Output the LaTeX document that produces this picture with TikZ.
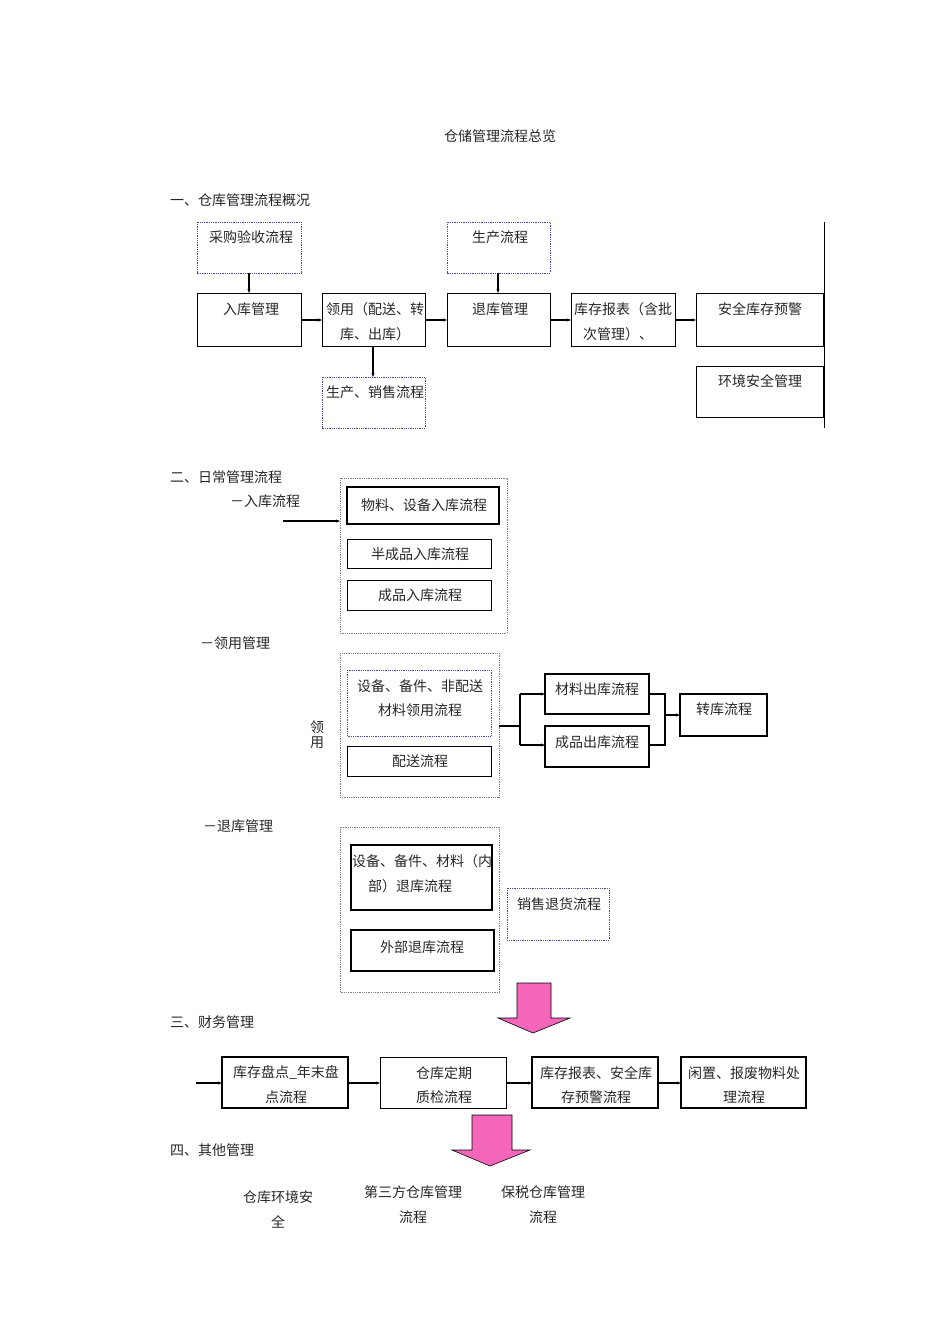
\documentclass[tikz,border=0pt]{standalone}
\usepackage{fontspec}
\setmainfont{Noto Sans CJK SC}
\usetikzlibrary{arrows.meta}
\begin{document}
\begin{tikzpicture}[x=1pt,y=-1pt,
  every node/.style={font=\fontsize{14}{19}\selectfont,inner sep=0pt,text=black!85},
  sbox/.style={draw,line width=0.8pt},
  tbox/.style={draw,line width=1.6pt},
  dbox/.style={draw=blue!45!gray,densely dotted,line width=0.8pt},
  gbox/.style={draw=gray,densely dotted,line width=0.8pt},
  arr/.style={line width=1.1pt,-{Stealth[length=4pt,width=3pt]}},
  pink/.style={fill=magenta!60,draw=black,line width=0.6pt}]
\useasboundingbox (0,0) rectangle (950,1344);
\node (title) at (500,136) {仓储管理流程总览};
\node[anchor=west] (s1) at (170,200) {一、仓库管理流程概况};
% section 1
\draw[dbox] (197,222) rectangle (301,273); \node (cg) at (251,237) {采购验收流程};
\draw[dbox] (447,222) rectangle (550,273); \node (sc) at (500,237) {生产流程};
\draw[dbox] (322,377) rectangle (425,428); \node (scxs) at (375,392) {生产、销售流程};
\draw[sbox] (197,293) rectangle (301,346); \node at (251,309) {入库管理};
\draw[sbox] (322,293) rectangle (425,346); \node at (375,309) {领用（配送、转}; \node at (375,334) {库、出库）};
\draw[sbox] (447,293) rectangle (550,346); \node at (500,309) {退库管理};
\draw[sbox] (571,293) rectangle (675,346); \node at (623,309) {库存报表（含批}; \node at (618,334) {次管理）、};
\draw[sbox] (696,293) rectangle (823,346); \node at (760,309) {安全库存预警};
\draw[sbox] (696,366) rectangle (823,417); \node at (760,381) {环境安全管理};
\draw[line width=0.8pt] (824,222) -- (824,428);
\coordinate (a1) at (249,273); \coordinate (a1e) at (249,293);
\draw[arr] (a1) -- (a1e);
\coordinate (a2) at (498,273); \coordinate (a2e) at (498,293);
\draw[arr] (a2) -- (a2e);
\coordinate (a3) at (373,346); \coordinate (a3e) at (373,377);
\draw[arr] (a3) -- (a3e);
\foreach \a/\b in {301/322,425/447,550/571,675/696}{\draw[arr] (\a,320) -- (\b,320);}
% section 2
\node[anchor=west] at (170,477) {二、日常管理流程};
\node[anchor=west] at (230,501) {－入库流程};
\draw[arr] (283,521) -- (340,521);
\draw[gbox] (340,478) rectangle (507,633);
\draw[tbox] (347,487) rectangle (499,524); \node at (424,505) {物料、设备入库流程};
\draw[sbox] (347,539) rectangle (491,568); \node at (420,554) {半成品入库流程};
\draw[sbox] (347,580) rectangle (491,610); \node at (420,595) {成品入库流程};
\node[anchor=west] at (200,643) {－领用管理};
\draw[gbox] (340,653) rectangle (499,797);
\draw[dbox] (347,670) rectangle (491,736); \node at (420,686) {设备、备件、非配送}; \node at (420,710) {材料领用流程};
\draw[sbox] (347,746) rectangle (491,776); \node at (420,761) {配送流程};
\node at (317,727) {领}; \node at (317,743) {用};
\draw[line width=1.1pt] (499,726) -- (520,726);
\draw[line width=1.1pt] (520,694) -- (520,745);
\draw[arr] (520,694) -- (545,694);
\draw[arr] (520,745) -- (545,745);
\draw[tbox] (545,674) rectangle (649,714); \node at (597,689) {材料出库流程};
\draw[tbox] (545,726) rectangle (649,767); \node at (597,742) {成品出库流程};
\draw[line width=1.1pt] (649,694) -- (665,694) -- (665,745) -- (649,745);
\draw[arr] (665,715) -- (680,715);
\draw[tbox] (680,694) rectangle (767,736); \node at (724,709) {转库流程};
\node[anchor=west] at (203,826) {－退库管理};
\draw[gbox] (340,827) rectangle (499,992);
\draw[tbox] (351,845) rectangle (492,910); \node at (422,861) {设备、备件、材料（内}; \node at (410,886) {部）退库流程};
\draw[tbox] (351,930) rectangle (494,971); \node at (422,947) {外部退库流程};
\draw[dbox] (507,888) rectangle (609,940); \node at (559,904) {销售退货流程};
\draw[pink] (517,983) -- (551,983) -- (551,1018) -- (570,1018) -- (533,1033) -- (498,1018) -- (517,1018) -- cycle;
% section 3
\node[anchor=west] at (170,1022) {三、财务管理};
\draw[arr] (196,1083) -- (222,1083);
\draw[tbox] (222,1057) rectangle (348,1108); \node at (286,1073) {库存盘点\_年末盘}; \node at (286,1097) {点流程};
\draw[sbox] (380,1057) rectangle (506,1108); \node at (444,1073) {仓库定期}; \node at (444,1097) {质检流程};
\draw[tbox] (532,1057) rectangle (658,1108); \node at (596,1073) {库存报表、安全库}; \node at (596,1097) {存预警流程};
\draw[tbox] (681,1057) rectangle (806,1108); \node at (744,1073) {闲置、报废物料处}; \node at (744,1097) {理流程};
\draw[arr] (348,1083) -- (380,1083);
\draw[arr] (506,1083) -- (532,1083);
\draw[arr] (658,1083) -- (681,1083);
\draw[pink] (472,1115) -- (512,1115) -- (512,1150) -- (530,1150) -- (490,1166) -- (452,1150) -- (472,1150) -- cycle;
% section 4
\node[anchor=west] at (170,1150) {四、其他管理};
\node at (278,1197) {仓库环境安}; \node at (278,1222) {全};
\node at (413,1192) {第三方仓库管理}; \node at (413,1217) {流程};
\node at (543,1192) {保税仓库管理}; \node at (543,1217) {流程};
\end{tikzpicture}
\end{document}
